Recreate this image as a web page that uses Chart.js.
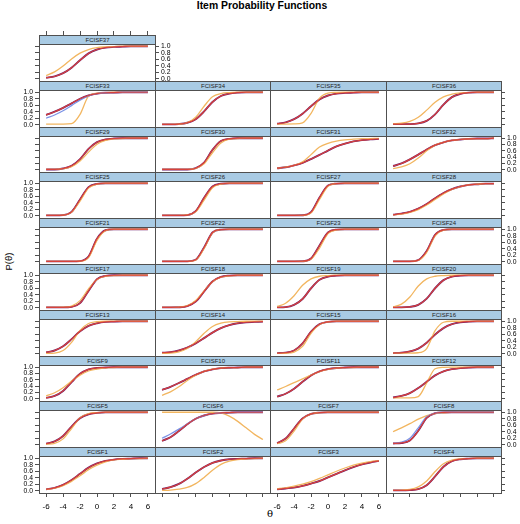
<!DOCTYPE html>
<html>
<head>
<meta charset="utf-8">
<script src="https://cdn.jsdelivr.net/npm/chart.js@4.4.0/dist/chart.umd.min.js"></script>
<style>
  body { margin: 0; background: #fff; font-family: "Liberation Sans", Arial, Helvetica, sans-serif; }
  #page { position: relative; width: 520px; height: 524px; overflow: hidden; }
  canvas { position: absolute; }
  .strip { position: absolute; box-sizing: border-box; background: #a9cbe4; border: 1px solid #505050;
           font-size: 6px; line-height: 8px; text-align: center; color: #222; z-index: 2; }
  #title { position: absolute; left: 0; width: 524px; top: 0; text-align: center; font-weight: bold; font-size: 10.4px; }
  #ylab { position: absolute; left: -12px; top: 256px; width: 40px; text-align: center; font-size: 9.5px; transform: rotate(-90deg); }
  #xlab { position: absolute; left: 250px; width: 40px; top: 508px; text-align: center; font-size: 10px; font-family: "DejaVu Serif", serif; }
</style>
</head>
<body>
<div id="page">
  <div id="title">Item Probability Functions</div>
  <div id="ylab">P(θ)</div>
  <div id="xlab">θ</div>
</div>
<script>
// item names, FCISF1 .. FCISF37
const items = ['FCISF1','FCISF2','FCISF3','FCISF4','FCISF5','FCISF6','FCISF7','FCISF8','FCISF9','FCISF10',
  'FCISF11','FCISF12','FCISF13','FCISF14','FCISF15','FCISF16','FCISF17','FCISF18','FCISF19','FCISF20',
  'FCISF21','FCISF22','FCISF23','FCISF24','FCISF25','FCISF26','FCISF27','FCISF28','FCISF29','FCISF30',
  'FCISF31','FCISF32','FCISF33','FCISF34','FCISF35','FCISF36','FCISF37'];

// theta grid the curves are read at
const theta = [-6,-5,-4,-3,-2,-1,0,1,2,3,4,5,6];
const thetaTicks = [-6,-4,-2,0,2,4,6];
const probTicks = [0,0.2,0.4,0.6,0.8,1.0];

// purple group (the red line sits on top of it)
const purpleP = [
  [0.04,0.09,0.18,0.33,0.52,0.71,0.84,0.92,0.96,0.98,0.99,1.0,1.0],     // 1
  [0.05,0.11,0.21,0.37,0.56,0.73,0.86,0.93,0.97,0.98,0.99,1.0,1.0],     // 2
  [0.04,0.07,0.10,0.15,0.22,0.30,0.41,0.52,0.63,0.73,0.81,0.87,0.92],   // 3
  [0.01,0.01,0.02,0.05,0.17,0.44,0.74,0.91,0.97,0.99,1.0,1.0,1.0],      // 4
  [0.03,0.10,0.27,0.56,0.82,0.94,0.98,1.0,1.0,1.0,1.0,1.0,1.0],         // 5
  [0.12,0.23,0.42,0.63,0.80,0.90,0.96,0.98,0.99,1.0,1.0,1.0,1.0],       // 6
  [0.05,0.19,0.50,0.81,0.95,0.99,1.0,1.0,1.0,1.0,1.0,1.0,1.0],          // 7
  [0.04,0.055,0.13,0.43,0.83,0.97,0.995,1.0,1.0,1.0,1.0,1.0,1.0],       // 8
  [0.03,0.09,0.25,0.53,0.79,0.93,0.98,0.99,1.0,1.0,1.0,1.0,1.0],        // 9
  [0.28,0.38,0.50,0.63,0.76,0.87,0.93,0.97,0.985,0.99,1.0,1.0,1.0],     // 10
  [0.07,0.16,0.32,0.54,0.74,0.87,0.94,0.975,0.99,1.0,1.0,1.0,1.0],      // 11
  [0.04,0.09,0.18,0.34,0.54,0.74,0.87,0.94,0.97,0.99,1.0,1.0,1.0],      // 12
  [0.04,0.10,0.23,0.45,0.69,0.86,0.94,0.98,0.99,1.0,1.0,1.0,1.0],       // 13
  [0.03,0.05,0.10,0.19,0.32,0.48,0.65,0.79,0.88,0.94,0.97,0.98,0.99],   // 14
  [0.02,0.03,0.10,0.32,0.68,0.91,0.98,1.0,1.0,1.0,1.0,1.0,1.0],         // 15
  [0.02,0.03,0.07,0.16,0.34,0.59,0.79,0.91,0.97,0.99,1.0,1.0,1.0],      // 16
  [0.01,0.01,0.01,0.025,0.14,0.52,0.88,0.98,1.0,1.0,1.0,1.0,1.0],       // 17
  [0.01,0.01,0.015,0.05,0.19,0.50,0.81,0.95,0.99,1.0,1.0,1.0,1.0],      // 18
  [0.01,0.02,0.09,0.27,0.60,0.86,0.96,0.99,1.0,1.0,1.0,1.0,1.0],        // 19
  [0.01,0.01,0.025,0.09,0.28,0.60,0.85,0.96,0.99,1.0,1.0,1.0,1.0],      // 20
  [0.01,0.01,0.01,0.01,0.02,0.16,0.71,0.97,1.0,1.0,1.0,1.0,1.0],        // 21
  [0.01,0.01,0.01,0.01,0.06,0.44,0.90,0.99,1.0,1.0,1.0,1.0,1.0],        // 22
  [0.01,0.01,0.01,0.015,0.10,0.50,0.90,0.99,1.0,1.0,1.0,1.0,1.0],       // 23
  [0.01,0.01,0.01,0.05,0.33,0.83,0.98,1.0,1.0,1.0,1.0,1.0,1.0],         // 24
  [0.01,0.01,0.02,0.12,0.50,0.88,0.98,1.0,1.0,1.0,1.0,1.0,1.0],         // 25
  [0.01,0.01,0.01,0.02,0.14,0.55,0.90,0.985,1.0,1.0,1.0,1.0,1.0],       // 26
  [0.01,0.01,0.01,0.015,0.11,0.56,0.93,0.99,1.0,1.0,1.0,1.0,1.0],       // 27
  [0.03,0.065,0.12,0.22,0.36,0.54,0.70,0.82,0.90,0.95,0.97,0.99,0.99],  // 28
  [0.01,0.01,0.04,0.125,0.34,0.66,0.875,0.96,0.99,1.0,1.0,1.0,1.0],     // 29
  [0.01,0.01,0.01,0.01,0.05,0.23,0.63,0.91,0.98,1.0,1.0,1.0,1.0],       // 30
  [0.05,0.08,0.14,0.22,0.34,0.47,0.61,0.74,0.83,0.90,0.94,0.965,0.98],  // 31
  [0.12,0.20,0.33,0.48,0.64,0.78,0.87,0.93,0.96,0.98,0.99,0.99,1.0],    // 32
  [0.30,0.40,0.52,0.66,0.80,0.90,0.96,0.985,0.99,1.0,1.0,1.0,1.0],      // 33
  [0.01,0.01,0.02,0.06,0.17,0.41,0.70,0.885,0.96,0.99,1.0,1.0,1.0],     // 34
  [0.03,0.07,0.17,0.34,0.57,0.78,0.90,0.96,0.98,0.99,1.0,1.0,1.0],      // 35
  [0.02,0.02,0.02,0.04,0.12,0.32,0.62,0.85,0.95,0.99,1.0,1.0,1.0],      // 36
  [0.03,0.07,0.17,0.34,0.57,0.78,0.90,0.96,0.98,0.99,1.0,1.0,1.0]       // 37
];

// orange group
const orangeP = [
  [0.04,0.08,0.16,0.29,0.46,0.65,0.79,0.89,0.95,0.97,0.99,0.99,1.0],    // 1
  [0.01,0.02,0.05,0.10,0.22,0.41,0.63,0.81,0.91,0.96,0.98,0.99,1.0],    // 2
  [0.06,0.09,0.14,0.20,0.28,0.38,0.49,0.60,0.70,0.79,0.85,0.90,0.93],   // 3
  [0.01,0.02,0.04,0.12,0.30,0.59,0.83,0.94,0.98,0.99,1.0,1.0,1.0],      // 4
  [0.015,0.04,0.18,0.50,0.83,0.96,0.99,1.0,1.0,1.0,1.0,1.0,1.0],        // 5
  [1.0,1.0,1.0,1.0,1.0,1.0,1.0,0.98,0.88,0.72,0.52,0.32,0.16],          // 6
  [0.03,0.12,0.42,0.79,0.95,0.99,1.0,1.0,1.0,1.0,1.0,1.0,1.0],          // 7
  [0.40,0.52,0.65,0.79,0.90,0.96,0.985,0.995,1.0,1.0,1.0,1.0,1.0],      // 8
  [0.09,0.19,0.35,0.56,0.75,0.88,0.94,0.98,0.99,1.0,1.0,1.0,1.0],       // 9
  [0.11,0.22,0.38,0.58,0.75,0.87,0.94,0.97,0.99,0.99,1.0,1.0,1.0],      // 10
  [0.28,0.39,0.51,0.63,0.75,0.86,0.93,0.97,0.985,0.99,1.0,1.0,1.0],     // 11
  [0.03,0.03,0.03,0.07,0.50,0.95,0.995,1.0,1.0,1.0,1.0,1.0,1.0],        // 12
  [0.01,0.02,0.10,0.35,0.72,0.93,0.985,1.0,1.0,1.0,1.0,1.0,1.0],        // 13
  [0.01,0.02,0.06,0.16,0.37,0.63,0.84,0.94,0.98,0.99,1.0,1.0,1.0],      // 14
  [0.01,0.015,0.05,0.23,0.63,0.90,0.98,1.0,1.0,1.0,1.0,1.0,1.0],        // 15
  [0.02,0.02,0.02,0.03,0.16,0.71,0.97,1.0,1.0,1.0,1.0,1.0,1.0],         // 16
  [0.01,0.01,0.015,0.05,0.22,0.58,0.87,0.97,0.99,1.0,1.0,1.0,1.0],      // 17
  [0.01,0.01,0.02,0.065,0.22,0.52,0.80,0.94,0.98,1.0,1.0,1.0,1.0],      // 18
  [0.04,0.14,0.37,0.69,0.89,0.97,0.99,1.0,1.0,1.0,1.0,1.0,1.0],         // 19
  [0.03,0.11,0.33,0.67,0.89,0.97,0.99,1.0,1.0,1.0,1.0,1.0,1.0],         // 20
  [0.01,0.01,0.01,0.01,0.015,0.125,0.66,0.96,1.0,1.0,1.0,1.0,1.0],      // 21
  [0.01,0.01,0.01,0.01,0.05,0.41,0.89,0.99,1.0,1.0,1.0,1.0,1.0],        // 22
  [0.01,0.01,0.01,0.012,0.075,0.42,0.87,0.98,1.0,1.0,1.0,1.0,1.0],      // 23
  [0.01,0.01,0.01,0.04,0.29,0.80,0.975,1.0,1.0,1.0,1.0,1.0,1.0],        // 24
  [0.01,0.01,0.02,0.11,0.45,0.85,0.97,1.0,1.0,1.0,1.0,1.0,1.0],         // 25
  [0.01,0.01,0.01,0.024,0.12,0.48,0.86,0.975,1.0,1.0,1.0,1.0,1.0],      // 26
  [0.01,0.01,0.01,0.012,0.09,0.50,0.91,0.99,1.0,1.0,1.0,1.0,1.0],       // 27
  [0.03,0.05,0.10,0.19,0.33,0.50,0.67,0.81,0.90,0.95,0.97,0.99,0.99],   // 28
  [0.01,0.01,0.034,0.10,0.28,0.56,0.81,0.93,0.98,0.99,1.0,1.0,1.0],     // 29
  [0.01,0.01,0.01,0.01,0.046,0.19,0.54,0.85,0.97,0.99,1.0,1.0,1.0],     // 30
  [0.05,0.085,0.14,0.25,0.48,0.72,0.84,0.91,0.95,0.97,0.985,0.99,0.995],// 31
  [0.04,0.09,0.19,0.37,0.60,0.78,0.87,0.93,0.96,0.98,0.99,0.99,1.0],    // 32
  [0.02,0.02,0.02,0.035,0.32,0.88,0.97,0.99,1.0,1.0,1.0,1.0,1.0],       // 33
  [0.01,0.01,0.015,0.063,0.23,0.57,0.86,0.96,0.99,1.0,1.0,1.0,1.0],     // 34
  [0.02,0.02,0.025,0.06,0.35,0.82,0.975,0.995,1.0,1.0,1.0,1.0,1.0],     // 35
  [0.03,0.045,0.10,0.23,0.45,0.69,0.86,0.94,0.98,0.99,1.0,1.0,1.0],     // 36
  [0.10,0.21,0.39,0.61,0.79,0.90,0.96,0.98,0.99,1.0,1.0,1.0,1.0]        // 37
];

// blue group, only drawn where it separates from the others
const blueItems = ['FCISF6', 'FCISF8', 'FCISF33'];
const blueP = [
  [0.20,0.33,0.48,0.64,0.80,0.90,0.96,0.98,0.99,1.0,1.0,1.0,1.0],
  [0.04,0.08,0.20,0.52,0.86,0.97,0.995,1.0,1.0,1.0,1.0,1.0,1.0],
  [0.20,0.30,0.43,0.59,0.76,0.89,0.96,0.985,0.99,1.0,1.0,1.0,1.0]
];

const FRAME = '#505050';
const FONT = '"Liberation Sans", Arial, Helvetica, sans-serif';
const X_MIN = -6.84, X_MAX = 6.84, Y_MIN = -0.07, Y_MAX = 1.07;
const PL = 32, PR = 32, PT = 14, PB = 26;

const page = document.getElementById('page');

function pts(vals) {
  return theta.map((t, k) => ({ x: t, y: vals[k] }));
}

function axisOpts(pos, size, ticksOn, labelsOn, tickLen, fontSize, pad) {
  const horiz = pos === 'top' || pos === 'bottom';
  return {
    type: 'linear',
    position: pos,
    min: horiz ? X_MIN : Y_MIN,
    max: horiz ? X_MAX : Y_MAX,
    afterBuildTicks: s => { s.ticks = (horiz ? thetaTicks : probTicks).map(v => ({ value: v })); },
    afterFit: s => {
      if (horiz) s.height = size; else s.width = size;
      s.paddingLeft = s.paddingRight = s.paddingTop = s.paddingBottom = 0;
    },
    grid: { display: true, drawOnChartArea: false, drawTicks: ticksOn, tickLength: tickLen, color: FRAME, tickColor: FRAME },
    border: { display: true, color: FRAME, width: 1 },
    ticks: {
      display: labelsOn, autoSkip: false, maxRotation: 0, padding: pad, color: '#000',
      font: { family: FONT, size: fontSize },
      callback: v => horiz ? String(v) : v.toFixed(1)
    }
  };
}

items.forEach((name, i) => {
  const num = i + 1;
  const r = num === 37 ? 0 : 9 - Math.floor(i / 4);
  const c = num === 37 ? 0 : i % 4;
  const rb = 9 - r;

  const left = Math.round(39 + c * 115.5);
  const right = Math.round(39 + (c + 1) * 115.5);
  const stripTop = Math.round(35 + r * 45.8);
  const top = stripTop + 9;
  const bottom = Math.round(35 + (r + 1) * 45.8);
  const w = right - left, h = bottom - top;

  const onLeft = c === 0;
  const onRight = c === 3 || num === 37;
  const onBottom = r === 9;
  const onTop = r === 0;

  const cv = document.createElement('canvas');
  cv.width = w + PL + PR;
  cv.height = h + PT + PB;
  cv.style.left = (left - PL) + 'px';
  cv.style.top = (top - PT) + 'px';
  page.appendChild(cv);

  const strip = document.createElement('div');
  strip.className = 'strip';
  strip.style.left = left + 'px';
  strip.style.top = stripTop + 'px';
  strip.style.width = (w + 1) + 'px';
  strip.style.height = (top - stripTop + 1) + 'px';
  strip.textContent = name;
  page.appendChild(strip);

  // higher order is drawn first (underneath)
  const line = (vals, color, width, order) => ({
    data: pts(vals), borderColor: color, borderWidth: width, order,
    pointRadius: 0, fill: false, cubicInterpolationMode: 'monotone'
  });

  const datasets = [line(purpleP[i], '#6b1e6e', 1.9, 4), line(orangeP[i], '#f2b660', 1.3, 3)];
  const b = blueItems.indexOf(name);
  if (b >= 0) datasets.push(line(blueP[b], '#7c93e6', 1.3, 2));
  datasets.push(line(purpleP[i], '#d8413a', 1.2, 1));

  new Chart(cv, {
    type: 'line',
    data: { datasets },
    options: {
      responsive: false,
      animation: false,
      events: [],
      layout: { padding: 0 },
      plugins: { legend: { display: false }, tooltip: { enabled: false }, title: { display: false } },
      scales: {
        x: axisOpts('bottom', PB, onBottom, onBottom && c % 2 === 0, 4, 8, 5),
        xTop: axisOpts('top', PT, onTop, false, 13, 8, 2),
        y: axisOpts('left', PL, onLeft, onLeft && rb % 2 === 0, 4, 6.8, 2),
        yRight: axisOpts('right', PR, onRight, onRight && rb % 2 === 1, 4, 6.8, 2)
      }
    }
  });
});
</script>
</body>
</html>
